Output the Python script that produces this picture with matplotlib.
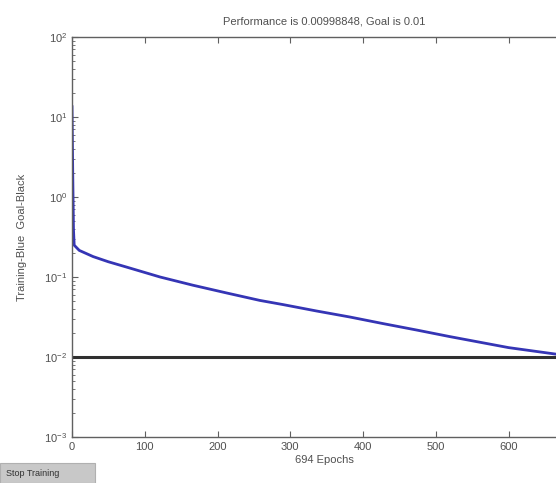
import numpy as np
import matplotlib
matplotlib.use("Agg")
import matplotlib.pyplot as plt
from matplotlib.patches import Rectangle

# training record
epochs = [0, 1, 2, 3, 10, 29, 50, 75, 121, 166, 213, 258, 290, 336, 382, 427,
          474, 519, 600, 694]
perf = [14.0, 2.0, 0.40, 0.25, 0.215, 0.18, 0.155, 0.133, 0.100, 0.079, 0.063,
        0.051, 0.0452, 0.0376, 0.0316, 0.0262, 0.0217, 0.0180, 0.0131, 0.00998848]
goal = 0.01
n_epochs = 694
x_ticks = [0, 100, 200, 300, 400, 500, 600]

plt.rcParams['font.family'] = ['Liberation Sans', 'DejaVu Sans']
txt = '#505050'

fig = plt.figure(figsize=(5.56, 4.83), dpi=100)
fig.patch.set_facecolor('white')
# axes run past the right edge, the screenshot was cropped there
ax = fig.add_axes([72/556, 46/483, 505/556, 400/483])

ax.semilogy(epochs, perf, color='#3535b5', lw=2.0, solid_capstyle='butt')
ax.axhline(goal, color='#303030', lw=2.2)

ax.set_xlim(0, n_epochs)
ax.set_ylim(1e-3, 1e2)
ax.set_xticks(x_ticks)
ax.tick_params(which='both', direction='in', top=True, right=True,
               colors='#606060', labelcolor=txt, labelsize=8)
ax.tick_params(which='major', length=4)
ax.tick_params(which='minor', length=2.5)
for s in ax.spines.values():
    s.set_color('#606060')
    s.set_linewidth(1.0)

ax.set_title('Performance is 0.00998848, Goal is 0.01', fontsize=8, color=txt, pad=9)
ax.set_xlabel('694 Epochs', fontsize=8, color=txt, labelpad=2)
ax.set_ylabel('Training-Blue  Goal-Black', fontsize=8, color=txt, labelpad=12)

# the Stop Training button under the plot
fig.patches.append(Rectangle((0, 0), 95/556, 20/483, transform=fig.transFigure,
                             facecolor='#c8c8c8', edgecolor='#b0b0b0', lw=0.8))
fig.text(6/556, 10/483, 'Stop Training', fontsize=6.5, color='#303030', va='center')

fig.savefig('out.png', dpi=100)
